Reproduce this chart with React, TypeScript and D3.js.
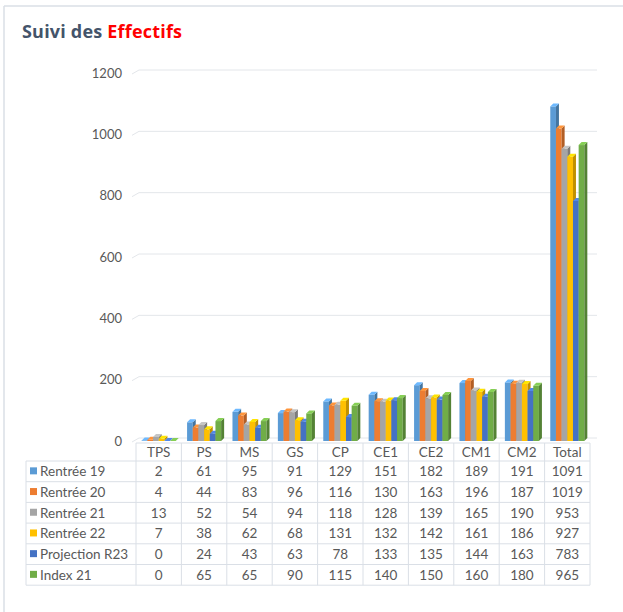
import React from 'react';
import * as d3 from 'd3';

const categories = ['TPS', 'PS', 'MS', 'GS', 'CP', 'CE1', 'CE2', 'CM1', 'CM2', 'Total'];
const seriesNames = ['Rentrée 19', 'Rentrée 20', 'Rentrée 21', 'Rentrée 22', 'Projection R23', 'Index 21'];
const seriesColors = ['#5b9bd5', '#ed7d31', '#a5a5a5', '#ffc000', '#4472c4', '#70ad47'];
const rentree19 = [2, 61, 95, 91, 129, 151, 182, 189, 191, 1091];
const rentree20 = [4, 44, 83, 96, 116, 130, 163, 196, 187, 1019];
const rentree21 = [13, 52, 54, 94, 118, 128, 139, 165, 190, 953];
const rentree22 = [7, 38, 62, 68, 131, 132, 142, 161, 186, 927];
const projectionR23 = [0, 24, 43, 63, 78, 133, 135, 144, 163, 783];
const index21 = [0, 65, 65, 90, 115, 140, 150, 160, 180, 965];
const yTicks = [0, 200, 400, 600, 800, 1000, 1200];

const seriesValues = [rentree19, rentree20, rentree21, rentree22, projectionR23, index21];

const W = 623;
const H = 612;
const FONT = 'Lato, "Open Sans", sans-serif';
const TXT = '#595959';
const LINE = '#dadfe6';
const DEPTH = 3;

export default function App() {
  const x0 = d3.scaleBand<string>().domain(categories).range([136, 590]).paddingInner(0.25).paddingOuter(0.125);
  const x1 = d3.scaleBand<number>().domain(d3.range(seriesNames.length)).range([0, x0.bandwidth()]);
  const y = d3.scaleLinear().domain([0, 1200]).range([441, 73]);
  const step = x0.step();
  const colX = (i: number) => 136 + i * step;

  const tableTop = 443;
  const headerH = 18;
  const rowH = 20.7;
  const tableLeft = 26;
  const tableRight = colX(categories.length);
  const tableBottom = tableTop + headerH + rowH * seriesNames.length;

  return (
    <svg width={W} height={H} style={{ position: 'absolute', left: 0, top: 0, background: '#fff' }}>
      {/* frame */}
      <line x1={4} x2={W} y1={6} y2={6} stroke={LINE} strokeWidth={1.5} />
      <line x1={4} x2={4} y1={6} y2={H} stroke={LINE} strokeWidth={1.5} />

      <text x={22} y={38} fontFamily='"Open Sans", sans-serif' fontSize={18} fontWeight={700} fill="#44546a" letterSpacing={0.2}>
        Suivi des <tspan fill="#ff0000">Effectifs</tspan>
      </text>

      {/* gridlines + y labels */}
      {yTicks.map((t) => (
        <g key={t}>
          <path
            d={`M132,${y(t) + 1} L${136 + DEPTH},${y(t) - DEPTH} L597,${y(t) - DEPTH}`}
            fill="none"
            stroke="#e3e6ea"
            strokeWidth={1}
          />
          <text x={122} y={y(t) + 4.5} textAnchor="end" fontFamily={FONT} fontSize={13} fill={TXT}>
            {t}
          </text>
        </g>
      ))}

      {/* bars with a small 3D effect */}
      {categories.map((c, ci) => (
        <g key={c} transform={`translate(${x0(c)},0)`}>
          {seriesValues.map((vals, si) => {
            const v = vals[ci];
            const bx = x1(si) as number;
            const bw = x1.bandwidth();
            const top = y(v);
            const base = y(0);
            const col = seriesColors[si];
            return (
              <g key={si}>
                <rect x={bx} y={top} width={bw} height={base - top} fill={col} />
                <path
                  d={`M${bx + bw},${top} L${bx + bw + DEPTH},${top - DEPTH} L${bx + bw + DEPTH},${base - DEPTH} L${bx + bw},${base} Z`}
                  fill={d3.color(col)!.darker(0.8).toString()}
                />
                <path
                  d={`M${bx},${top} L${bx + DEPTH},${top - DEPTH} L${bx + bw + DEPTH},${top - DEPTH} L${bx + bw},${top} Z`}
                  fill={d3.color(col)!.brighter(0.5).toString()}
                />
              </g>
            );
          })}
        </g>
      ))}

      {/* data table */}
      <g fontFamily={FONT} fontSize={13.5} fill={TXT}>
        <line x1={136} x2={tableRight} y1={tableTop} y2={tableTop} stroke={LINE} />
        {seriesNames.map((_, ri) => (
          <line
            key={ri}
            x1={tableLeft}
            x2={tableRight}
            y1={tableTop + headerH + ri * rowH}
            y2={tableTop + headerH + ri * rowH}
            stroke={LINE}
          />
        ))}
        <line x1={tableLeft} x2={tableRight} y1={tableBottom} y2={tableBottom} stroke={LINE} />
        <line x1={tableLeft} x2={tableLeft} y1={tableTop + headerH} y2={tableBottom} stroke={LINE} />
        {d3.range(categories.length + 1).map((i) => (
          <line key={i} x1={colX(i)} x2={colX(i)} y1={tableTop} y2={tableBottom} stroke={LINE} />
        ))}
        {categories.map((c, ci) => (
          <text key={c} x={colX(ci) + step / 2} y={tableTop + headerH / 2 + 5} textAnchor="middle">
            {c}
          </text>
        ))}
        {seriesNames.map((name, ri) => {
          const cy = tableTop + headerH + ri * rowH + rowH / 2;
          return (
            <g key={name}>
              <rect x={30} y={cy - 4} width={7} height={7} fill={seriesColors[ri]} />
              <text x={40} y={cy + 5}>{name}</text>
              {seriesValues[ri].map((v, ci) => (
                <text key={ci} x={colX(ci) + step / 2} y={cy + 5} textAnchor="middle">
                  {v}
                </text>
              ))}
            </g>
          );
        })}
      </g>
    </svg>
  );
}
